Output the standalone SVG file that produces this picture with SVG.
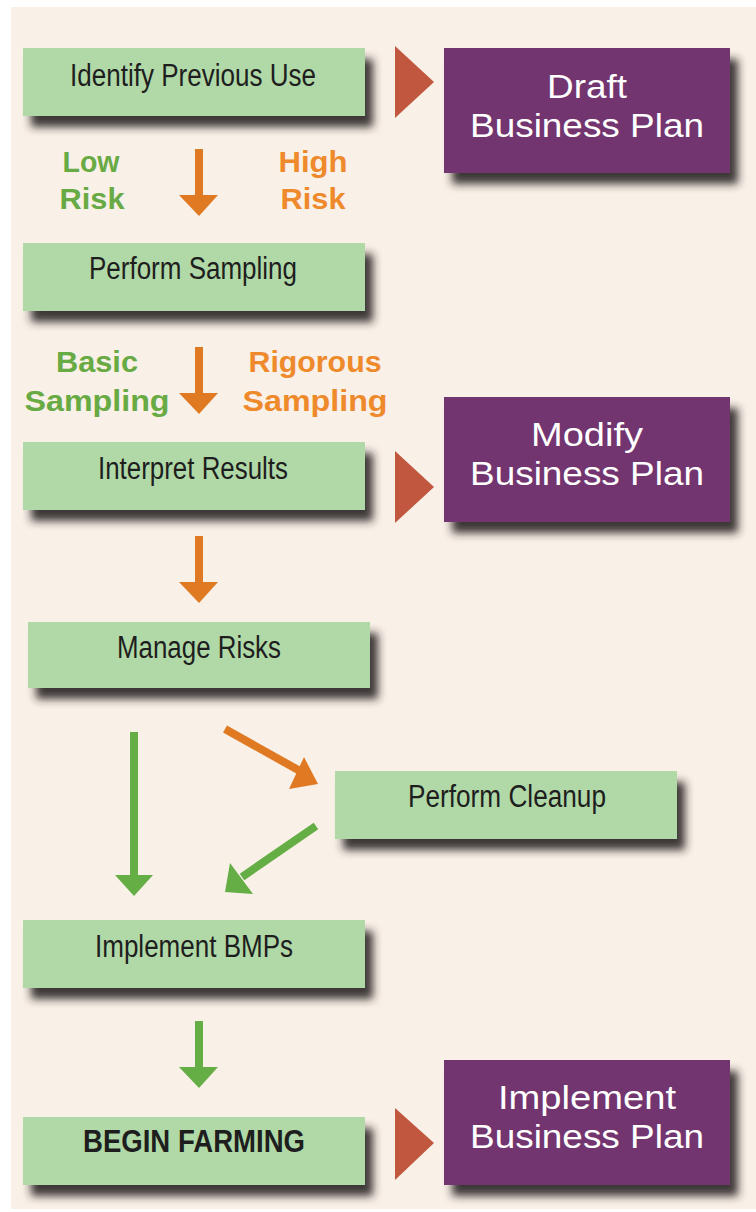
<svg xmlns="http://www.w3.org/2000/svg" width="756" height="1212" viewBox="0 0 756 1212">
<defs>
<filter id="sh" x="-10%" y="-20%" width="130%" height="160%">
<feDropShadow dx="8" dy="11" stdDeviation="4" flood-color="#2a2222" flood-opacity="0.9"/>
</filter>
</defs>
<style>
.g{fill:#b1d9a7;filter:url(#sh)}
.p{fill:#723470;filter:url(#sh)}
.tri{fill:#c0573e}
.gt{font-family:"Liberation Sans",Arial,sans-serif;font-size:31px;fill:#1e1e1e;text-anchor:middle}
.pt{font-family:"Liberation Sans",Arial,sans-serif;font-size:33px;fill:#ffffff;text-anchor:middle}
.lab{font-family:"Liberation Sans",Arial,sans-serif;font-size:29px;font-weight:bold;text-anchor:middle}
.lg{fill:#68aa43}
.lo{fill:#ee8a2b}
.ao{fill:#e07a22}
.ag{fill:#65ad45}
</style>
<rect x="0" y="0" width="756" height="1212" fill="#ffffff"/>
<rect x="11" y="7" width="745" height="1202" fill="#f9f0e7"/>
<g id="connectors">
<rect class="ao" x="195" y="149" width="8" height="47"/>
<polygon class="ao" points="179,195 218,195 199,216"/>
<rect class="ao" x="195" y="347" width="8" height="47"/>
<polygon class="ao" points="179,393 218,393 199,414"/>
<rect class="ao" x="195" y="536" width="8" height="47"/>
<polygon class="ao" points="179,582 218,582 199,603"/>
<line x1="225" y1="729" x2="300" y2="771" stroke="#e07a22" stroke-width="8"/>
<polygon class="ao" points="304,757 318,784 289,789"/>
<rect class="ag" x="130" y="732" width="8" height="144"/>
<polygon class="ag" points="115,875 153,875 134,896"/>
<line x1="316" y1="826" x2="242" y2="877" stroke="#65ad45" stroke-width="8"/>
<polygon class="ag" points="230,863 253,894 225,892"/>
<rect class="ag" x="195" y="1021" width="8" height="47"/>
<polygon class="ag" points="179,1067 218,1067 199,1088"/>
<polygon class="tri" points="395,46 434,82 395,118"/>
<polygon class="tri" points="395,451 434,487 395,523"/>
<polygon class="tri" points="395,1108 434,1143 395,1180"/>
</g>
<g id="labels">
<text class="lab lg" x="91" y="172" textLength="57" lengthAdjust="spacingAndGlyphs">Low</text>
<text class="lab lg" x="92" y="209" textLength="65" lengthAdjust="spacingAndGlyphs">Risk</text>
<text class="lab lo" x="313" y="172" textLength="69" lengthAdjust="spacingAndGlyphs">High</text>
<text class="lab lo" x="313" y="209" textLength="65" lengthAdjust="spacingAndGlyphs">Risk</text>
<text class="lab lg" x="97" y="372" textLength="82" lengthAdjust="spacingAndGlyphs">Basic</text>
<text class="lab lg" x="97" y="411" textLength="145" lengthAdjust="spacingAndGlyphs">Sampling</text>
<text class="lab lo" x="315" y="372" textLength="133" lengthAdjust="spacingAndGlyphs">Rigorous</text>
<text class="lab lo" x="315" y="411" textLength="145" lengthAdjust="spacingAndGlyphs">Sampling</text>
</g>
<g id="n1"><rect class="g" x="23" y="48" width="342" height="68"/><text class="gt" x="193" y="86" textLength="246" lengthAdjust="spacingAndGlyphs">Identify Previous Use</text></g>
<g id="n2"><rect class="g" x="23" y="243" width="342" height="68"/><text class="gt" x="193" y="279" textLength="208" lengthAdjust="spacingAndGlyphs">Perform Sampling</text></g>
<g id="n3"><rect class="g" x="23" y="442" width="342" height="68"/><text class="gt" x="193" y="479" textLength="190" lengthAdjust="spacingAndGlyphs">Interpret Results</text></g>
<g id="n4"><rect class="g" x="28" y="622" width="342" height="66"/><text class="gt" x="199" y="658" textLength="164" lengthAdjust="spacingAndGlyphs">Manage Risks</text></g>
<g id="n5"><rect class="g" x="335" y="771" width="342" height="68"/><text class="gt" x="507" y="807" textLength="198" lengthAdjust="spacingAndGlyphs">Perform Cleanup</text></g>
<g id="n6"><rect class="g" x="23" y="920" width="342" height="68"/><text class="gt" x="194" y="957" textLength="198" lengthAdjust="spacingAndGlyphs">Implement BMPs</text></g>
<g id="n7"><rect class="g" x="23" y="1117" width="342" height="68"/><text class="gt" x="194" y="1152" font-weight="bold" textLength="222" lengthAdjust="spacingAndGlyphs">BEGIN FARMING</text></g>
<g id="p1"><rect class="p" x="444" y="48" width="286" height="125"/><text class="pt" x="587" y="98" textLength="80" lengthAdjust="spacingAndGlyphs">Draft</text><text class="pt" x="587" y="137" textLength="234" lengthAdjust="spacingAndGlyphs">Business Plan</text></g>
<g id="p2"><rect class="p" x="444" y="397" width="286" height="125"/><text class="pt" x="587" y="446" textLength="112" lengthAdjust="spacingAndGlyphs">Modify</text><text class="pt" x="587" y="485" textLength="234" lengthAdjust="spacingAndGlyphs">Business Plan</text></g>
<g id="p3"><rect class="p" x="444" y="1060" width="286" height="125"/><text class="pt" x="587" y="1109" textLength="178" lengthAdjust="spacingAndGlyphs">Implement</text><text class="pt" x="587" y="1148" textLength="234" lengthAdjust="spacingAndGlyphs">Business Plan</text></g>
</svg>
